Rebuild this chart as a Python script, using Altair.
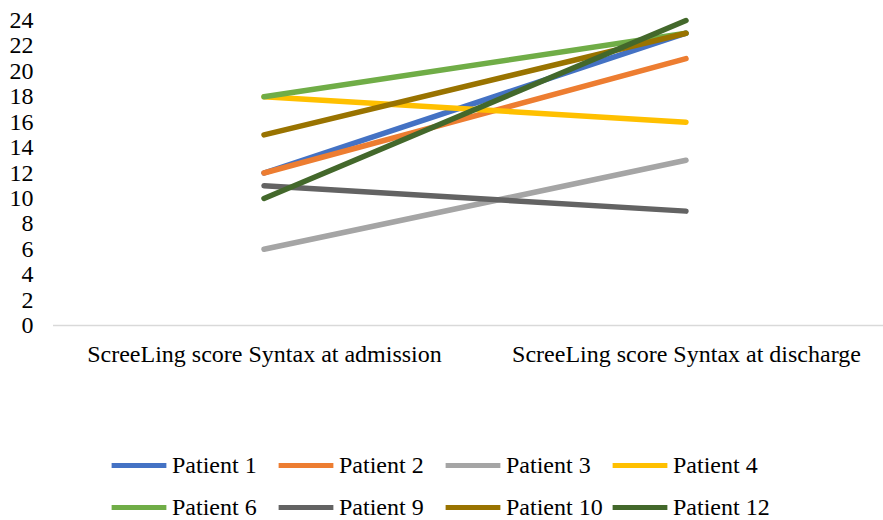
import altair as alt
import pandas as pd

# Scores per patient at the two assessment points
stages = ["ScreeLing score Syntax at admission", "ScreeLing score Syntax at discharge"]
patients = ["Patient 1", "Patient 2", "Patient 3", "Patient 4",
            "Patient 6", "Patient 9", "Patient 10", "Patient 12"]
admission = [12, 12, 6, 18, 18, 11, 15, 10]
discharge = [23, 21, 13, 16, 23, 9, 23, 24]
colors = ["#4472C4", "#ED7D31", "#A5A5A5", "#FFC000",
          "#70AD47", "#636363", "#997300", "#43682B"]
y_ticks = list(range(0, 25, 2))

rows = []
for i, p in enumerate(patients):
    rows.append({"stage": stages[0], "patient": p, "score": admission[i], "idx": i})
    rows.append({"stage": stages[1], "patient": p, "score": discharge[i], "idx": i})
df = pd.DataFrame(rows)

FONT = "'Liberation Serif', 'Times New Roman', Times, serif"

y_axis = alt.Axis(title=None, values=y_ticks, grid=False, domain=False, ticks=False,
                  labelPadding=20, labelOverlap=False)
y_scale = alt.Scale(domain=[0, 24], nice=False)

# horizontal category axis line at zero
baseline = alt.Chart(pd.DataFrame({"score": [0]})).mark_rule(
    color="#D9D9D9", strokeWidth=1.5
).encode(y=alt.Y("score:Q", scale=y_scale, axis=y_axis))

lines = alt.Chart(df).mark_line(strokeWidth=5.5, strokeCap="round").encode(
    x=alt.X("stage:N", sort=stages,
            scale=alt.Scale(type="point", range=[211, 633], padding=0),
            axis=alt.Axis(title=None, labelAngle=0, ticks=False, domain=False,
                          labelPadding=17, labelLimit=0)),
    y=alt.Y("score:Q", scale=y_scale, axis=y_axis),
    color=alt.Color("patient:N", sort=patients,
                    scale=alt.Scale(domain=patients, range=colors),
                    legend=alt.Legend(title=None, orient="none", legendX=56, legendY=415,
                                      direction="horizontal", columns=4,
                                      gridAlign="all", columnPadding=-1, rowPadding=-13,
                                      symbolType="stroke", symbolSize=3000,
                                      symbolStrokeWidth=5, labelOffset=3, padding=0)),
    order=alt.Order("idx:Q"),
    detail="patient:N",
)

chart = alt.layer(baseline, lines).properties(
    width=830, height=305,
    autosize=alt.AutoSizeParams(type="none"),
    padding={"left": 53, "top": 20.5, "right": 0, "bottom": 194.5},
).configure_view(
    stroke=None
).configure_axis(
    labelFont=FONT, labelFontSize=24, labelColor="#000000"
).configure_legend(
    labelFont=FONT, labelFontSize=24, labelColor="#000000", labelLimit=0
)

chart.save("out.html", embed_options={"renderer": "svg", "actions": False})
